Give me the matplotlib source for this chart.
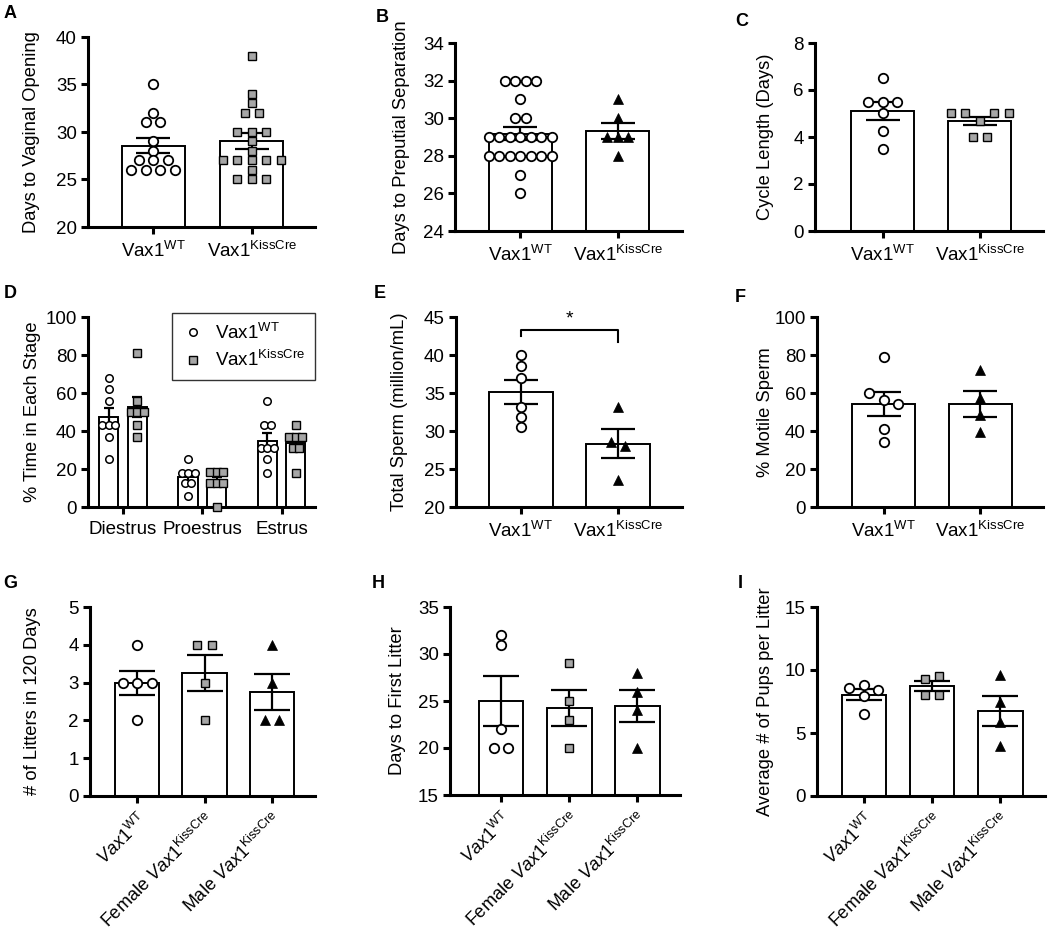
import matplotlib
matplotlib.use('Agg')
import matplotlib.pyplot as plt
import numpy as np

plt.rcParams['font.family'] = ['Liberation Sans', 'DejaVu Sans']
plt.rcParams['mathtext.fontset'] = 'custom'
plt.rcParams['mathtext.rm'] = 'Liberation Sans'
plt.rcParams['mathtext.it'] = 'Liberation Sans:italic'
plt.rcParams['mathtext.bf'] = 'Liberation Sans:bold'

# ---- data ----
# A: days to vaginal opening
vo_wt = [35, 32, 31, 31, 29, 28, 27, 27, 27, 26, 26, 26, 26]
vo_kiss = [38, 34, 33, 32, 32, 30, 30, 30, 29, 28, 27, 27, 27, 27, 27, 26, 25, 25, 25]
# B: days to preputial separation
ps_wt = [32, 32, 32, 32, 31, 30, 30, 29, 29, 29, 29, 29, 29, 29,
         28, 28, 28, 28, 28, 28, 28, 27, 26]
ps_kiss = [31, 30, 29, 29, 29, 28]
# C: cycle length (days)
cl_wt = [6.5, 5.5, 5.5, 5.5, 5.0, 4.25, 3.5]
cl_kiss = [5.0, 5.0, 4.7, 5.0, 5.0, 4.0, 4.0]
# D: % time in each stage
stages = ['Diestrus', 'Proestrus', 'Estrus']
stage_wt = [[68, 62, 56, 43, 43, 43, 37, 25],
            [25, 18, 18, 18, 12.5, 12.5, 6],
            [56, 43, 43, 31, 31, 31, 25, 18]]
stage_kiss = [[81, 56, 50, 50, 50, 43, 37],
              [18.5, 18.5, 18.5, 12.5, 12.5, 12.5, 0],
              [43, 37, 37, 37, 31, 31, 18]]
# E: total sperm (million/mL)
sp_wt = [40, 38.5, 37, 33.2, 31.8, 30.5]
sp_kiss = [33.2, 28.6, 28.0, 23.6]
# F: % motile sperm
mot_wt = [79, 60, 56.5, 54, 41, 34]
mot_kiss = [72, 57.5, 48.5, 39.5]
# G: litters in 120 days
lit_wt = [4, 3, 3, 3, 2]
lit_fem = [4, 4, 3, 2]
lit_male = [4, 3, 2, 2]
# H: days to first litter
first_wt = [32, 31, 22, 20, 20]
first_fem = [29, 25, 23, 20]
first_male = [28, 26, 24, 20]
# I: average pups per litter
pups_wt = [8.6, 8.8, 8.45, 7.9, 6.5]
pups_fem = [9.3, 9.5, 8.0, 8.0]
pups_male = [9.6, 7.5, 5.9, 4.0]

two_labels = ['Vax1$^{\\mathregular{WT}}$', 'Vax1$^{\\mathregular{KissCre}}$']
three_labels = ['$\\mathit{Vax1}^{\\mathregular{WT}}$',
                'Female $\\mathit{Vax1}^{\\mathregular{KissCre}}$',
                'Male $\\mathit{Vax1}^{\\mathregular{KissCre}}$']

W, H = 1050, 938
fig = plt.figure(figsize=(W / 100, H / 100), dpi=100)

circ = dict(marker='o', mfc='white', mec='black', mew=1.3, ms=6.8)
sq = dict(marker='s', mfc='#a6a6a6', mec='black', mew=1.0, ms=6.3)
tri = dict(marker='^', mfc='black', mec='black', mew=0.5, ms=6.8)

FS = 13.5


def add_ax(x0, y0, x1, y1):
    return fig.add_axes([x0 / W, 1 - y1 / H, (x1 - x0) / W, (y1 - y0) / H])


def swarm(vals, ppu, tol, step):
    # group values that sit within tol pixels into rows, spread each row
    vals = np.asarray(vals, float)
    order = sorted(range(len(vals)), key=lambda i: -vals[i])
    rows = []
    for i in order:
        if rows and (vals[rows[-1][-1]] - vals[i]) * ppu < tol:
            rows[-1].append(i)
        else:
            rows.append([i])
    offs = np.zeros(len(vals))
    for r in rows:
        r = sorted(r)
        n = len(r)
        for k, i in enumerate(r):
            offs[i] = (k - (n - 1) / 2) * step
    return offs


def style_ax(ax, xlim, ylim, yticks, ylabel, label_dist=54):
    ax.set_xlim(xlim)
    ax.set_ylim(ylim)
    ax.set_yticks(yticks)
    ax.spines['top'].set_visible(False)
    ax.spines['right'].set_visible(False)
    ax.spines['left'].set_linewidth(2.2)
    ax.spines['bottom'].set_linewidth(2.2)
    ax.tick_params(axis='both', length=5, width=2.2, labelsize=FS, pad=3)
    ax.tick_params(axis='x', pad=5)
    ax.set_ylabel(ylabel, fontsize=13.2)
    wpx = ax.get_position().width * W
    ax.yaxis.label.set_verticalalignment('center')
    ax.yaxis.set_label_coords(-label_dist / wpx, 0.5)


def draw_groups(ax, groups, centers, width, styles, capsize, step_px=14.5, tol=9,
                labels=None):
    bb = ax.get_position()
    wpx = bb.width * W
    hpx = bb.height * H
    x0, x1 = ax.get_xlim()
    y0, y1 = ax.get_ylim()
    ppu = hpx / (y1 - y0)
    step = step_px * (x1 - x0) / wpx
    for j, (vals, c, st) in enumerate(zip(groups, centers, styles)):
        vals = np.asarray(vals, float)
        m = vals.mean()
        sem = vals.std(ddof=1) / np.sqrt(len(vals))
        ax.bar(c, m, width, color='white', edgecolor='black', linewidth=1.4, zorder=1)
        ax.errorbar(c, m, yerr=sem, color='black', capsize=capsize, elinewidth=1.6,
                    capthick=1.6, zorder=2)
        offs = swarm(vals, ppu, tol, step)
        lab = labels[j] if labels else None
        ax.plot(c + offs, vals, linestyle='none', clip_on=False, zorder=3, label=lab, **st)


# ---- top row ----
ax = add_ax(88, 37, 315, 227)
style_ax(ax, (-0.66, 1.64), (20, 40), [20, 25, 30, 35, 40], 'Days to Vaginal Opening', 56)
draw_groups(ax, [vo_wt, vo_kiss], [0, 1], 0.64, [circ, sq], 12)
ax.set_xticks([0, 1], two_labels)

ax = add_ax(455, 43, 682, 231)
style_ax(ax, (-0.67, 1.66), (24, 34), [24, 26, 28, 30, 32, 34], 'Days to Preputial Separation', 53)
draw_groups(ax, [ps_wt, ps_kiss], [0, 1], 0.65, [circ, tri], 12, step_px=10.5)
ax.set_xticks([0, 1], two_labels)

ax = add_ax(815, 43, 1043, 231)
style_ax(ax, (-0.70, 1.65), (0, 8), [0, 2, 4, 6, 8], 'Cycle Length (Days)', 50)
draw_groups(ax, [cl_wt, cl_kiss], [0, 1], 0.65, [circ, sq], 12)
ax.set_xticks([0, 1], two_labels)

# ---- middle row ----
ax = add_ax(88, 317, 315, 507)
style_ax(ax, (-0.44, 2.42), (0, 100), [0, 20, 40, 60, 80, 100], '% Time in Each Stage', 55)
circ_s = dict(circ, ms=5.4, mew=1.1)
sq_s = dict(sq, ms=5.2)
for k in range(len(stages)):
    draw_groups(ax, [stage_wt[k], stage_kiss[k]], [k - 0.18, k + 0.18], 0.24,
                [circ_s, sq_s], 3.5, step_px=6.5, tol=7,
                labels=two_labels if k == 0 else None)
ax.set_xticks(range(len(stages)), stages)
leg = ax.legend(loc='upper right', bbox_to_anchor=(1.0, 1.02), borderaxespad=0,
                fancybox=False, edgecolor='black', fontsize=FS, handletextpad=0.6,
                borderpad=0.5, labelspacing=0.4, handlelength=1.2)
leg.get_frame().set_linewidth(1.0)

ax = add_ax(456, 317, 682, 507)
style_ax(ax, (-0.67, 1.66), (20, 45), [20, 25, 30, 35, 40, 45], 'Total Sperm (million/mL)', 56)
draw_groups(ax, [sp_wt, sp_kiss], [0, 1], 0.65, [circ, tri], 12)
ax.set_xticks([0, 1], two_labels)
ax.plot([0, 0, 1, 1], [42.5, 43.3, 43.3, 41.7], color='black', lw=1.5, clip_on=False)
ax.text(0.5, 43.6, '*', ha='center', va='bottom', fontsize=14)

ax = add_ax(817, 317, 1043, 507)
style_ax(ax, (-0.69, 1.65), (0, 100), [0, 20, 40, 60, 80, 100], '% Motile Sperm', 52)
draw_groups(ax, [mot_wt, mot_kiss], [0, 1], 0.65, [circ, tri], 12)
ax.set_xticks([0, 1], two_labels)

# ---- bottom row ----
bottom = [
    ((90, 607, 315, 796), (-0.70, 2.64), (0, 5), [0, 1, 2, 3, 4, 5],
     '# of Litters in 120 Days', [lit_wt, lit_fem, lit_male], 57, 9),
    ((450, 607, 680, 795), (-0.75, 2.63), (15, 35), [15, 20, 25, 30, 35],
     'Days to First Litter', [first_wt, first_fem, first_male], 52, 9),
    ((817, 607, 1045, 796), (-0.69, 2.66), (0, 15), [0, 5, 10, 15],
     'Average # of Pups per Litter', [pups_wt, pups_fem, pups_male], 52, 5),
]
for box, xl, yl, yt, lab, groups, dist, tol in bottom:
    ax = add_ax(*box)
    style_ax(ax, xl, yl, yt, lab, dist)
    draw_groups(ax, groups, [0, 1, 2], 0.66, [circ, sq, tri], 13, tol=tol)
    ax.set_xticks([0, 1, 2])
    ax.set_xticklabels(three_labels, rotation=45, ha='right', va='top',
                       rotation_mode='anchor', fontsize=13)

# panel letters
letters = [('A', 10, 14), ('B', 382, 17), ('C', 742, 21),
           ('D', 10, 293), ('E', 380, 293), ('F', 740, 297),
           ('G', 10, 583), ('H', 378, 583), ('I', 740, 583)]
for t, x, y in letters:
    fig.text(x / W, 1 - y / H, t, fontsize=13, fontweight='bold', ha='center', va='center')

fig.savefig('out.png', dpi=100)
